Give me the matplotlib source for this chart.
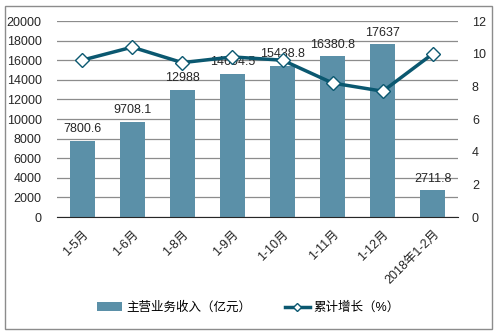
import matplotlib.pyplot as plt
from matplotlib.patches import Rectangle
import numpy as np

plt.rcParams['font.family'] = ['Liberation Sans', 'Noto Sans CJK SC', 'DejaVu Sans']

# data
periods = ['1-5月', '1-6月', '1-8月', '1-9月', '1-10月', '1-11月', '1-12月', '2018年1-2月']
revenue = [7800.6, 9708.1, 12988, 14604.5, 15438.8, 16380.8, 17637, 2711.8]
revenue_labels = ['7800.6', '9708.1', '12988', '14604.5', '15438.8', '16380.8', '17637', '2711.8']
growth = [9.6, 10.4, 9.45, 9.8, 9.6, 8.2, 7.7, 10.0]

bar_color = '#5B90A8'
line_color = '#0B5870'

fig = plt.figure(figsize=(4.97, 3.35), dpi=100)
fig.patches.append(Rectangle((5 / 497, 1 - 329 / 335), 487 / 497, 323 / 335,
                             transform=fig.transFigure, fill=False,
                             edgecolor='#8c8c8c', linewidth=1))
ax = fig.add_axes([57 / 497, 1 - 217 / 335, 401 / 497, 196 / 335])
ax2 = ax.twinx()

x = np.arange(len(periods))
ax.bar(x, revenue, width=0.5, color=bar_color, label='主营业务收入（亿元）', zorder=2)
for xi, v, s in zip(x, revenue, revenue_labels):
    ax.annotate(s, (xi, v), xytext=(0, 4), textcoords='offset points',
                ha='center', va='bottom', fontsize=9, color='#262626', zorder=5)

ax2.plot(x, growth, color=line_color, linewidth=2.5, marker='D', markersize=7,
         markerfacecolor='white', markeredgecolor=line_color, markeredgewidth=1,
         label='累计增长（%）', zorder=3)

ax.set_xlim(-0.5, len(periods) - 0.5)
ax.set_ylim(0, 20000)
ax.set_yticks(np.arange(0, 20001, 2000))
ax2.set_ylim(0, 12)
ax2.set_yticks(np.arange(0, 13, 2))

ax.set_xticks(x)
ax.set_xticklabels(periods, rotation=45, ha='right', rotation_mode='anchor', fontsize=9)
ax.tick_params(axis='x', length=0, labelsize=9, colors='#262626', pad=8)
ax.tick_params(axis='y', length=0, labelsize=9, colors='#262626', pad=11)
ax2.tick_params(axis='y', length=0, labelsize=9, colors='#262626', pad=10)

ax.grid(axis='y', color='#8c8c8c', linewidth=0.9, zorder=0)
ax.set_axisbelow(True)
for a in (ax, ax2):
    for side in ('top', 'left', 'right'):
        a.spines[side].set_visible(False)
    a.spines['bottom'].set_color('#262626')
ax2.spines['bottom'].set_visible(False)

h1, l1 = ax.get_legend_handles_labels()
h2, l2 = ax2.get_legend_handles_labels()
fig.legend(h1 + h2, l1 + l2, loc='center', bbox_to_anchor=(0.5, 1 - 308 / 335),
           ncol=2, frameon=False, fontsize=9, handlelength=2.0, handletextpad=0.3,
           columnspacing=2.7, markerscale=0.65)

fig.savefig('out.png', dpi=100)
